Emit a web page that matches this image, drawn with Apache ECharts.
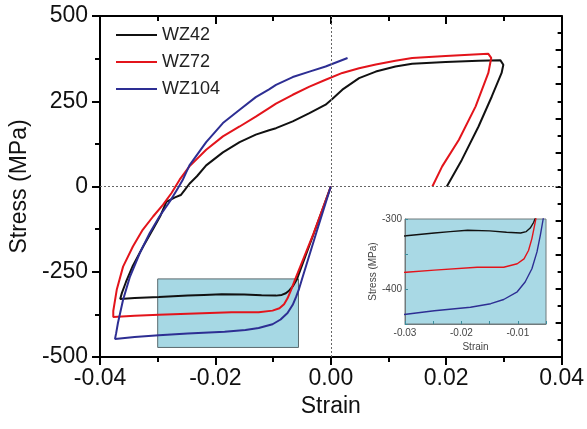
<!DOCTYPE html>
<html><head><meta charset="utf-8">
<script src="https://cdn.jsdelivr.net/npm/echarts@6/dist/echarts.min.js"></script>
<style>html,body{margin:0;padding:0;background:#fff}#c{width:587px;height:429px}</style>
</head><body><div id="c"></div>
<script>
const seriesNames = ['WZ42', 'WZ72', 'WZ104'];
const seriesColors = ['#111111', '#e3141b', '#2d2e93'];

// [strain, stress (MPa)] in loading-path order
const wz42 = [[0,0],[-0.003,-140],[-0.0059,-273],[-0.0066,-293],[-0.0072,-305],[-0.0078,-313],[-0.0085,-318],[-0.0095,-320],[-0.012,-319],[-0.015,-317],[-0.0189,-316],[-0.022,-318],[-0.0248,-320],[-0.0298,-324],[-0.034,-327],[-0.0365,-330],[-0.0362,-312],[-0.0355,-280],[-0.0343,-232],[-0.0325,-175],[-0.0308,-125],[-0.0295,-85],[-0.0285,-45],[-0.027,-32],[-0.026,-25],[-0.0253,-10],[-0.0245,8],[-0.0232,30],[-0.0216,62],[-0.0187,100],[-0.0158,130],[-0.013,152],[-0.0107,165],[-0.0095,171],[-0.0066,191],[-0.0037,215],[-0.0009,240],[0.0002,256],[0.002,284],[0.0049,318],[0.0078,337],[0.0112,352],[0.0141,360],[0.0199,365],[0.0256,369],[0.0294,370],[0.0299,357],[0.0296,333],[0.0279,264],[0.0256,176],[0.0227,78],[0.0201,0]];
const wz72 = [[0,0],[-0.003,-138],[-0.0062,-273],[-0.0069,-304],[-0.0075,-328],[-0.0081,-345],[-0.0089,-357],[-0.0101,-364],[-0.0125,-369],[-0.0172,-369],[-0.0248,-373],[-0.0298,-376],[-0.034,-379],[-0.0377,-383],[-0.0377,-365],[-0.0371,-303],[-0.036,-235],[-0.0343,-176],[-0.0326,-127],[-0.0308,-88],[-0.0291,-54],[-0.0276,-19],[-0.0271,-5],[-0.0262,20],[-0.0245,59],[-0.0216,108],[-0.0187,147],[-0.0158,176],[-0.013,205],[-0.0107,230],[-0.0095,243],[-0.0066,269],[-0.0037,293],[-0.0009,313],[0.002,333],[0.0049,347],[0.0078,358],[0.0112,369],[0.0141,377],[0.0199,383],[0.0256,388],[0.0273,389],[0.0278,377],[0.0273,333],[0.0251,235],[0.0222,137],[0.0193,59],[0.0176,0]];
const wz104 = [[0,0],[-0.0025,-135],[-0.005,-272],[-0.0055,-300],[-0.006,-323],[-0.0066,-347],[-0.0075,-371],[-0.0087,-390],[-0.0101,-404],[-0.0125,-415],[-0.0148,-421],[-0.0184,-426],[-0.0248,-431],[-0.0298,-436],[-0.034,-441],[-0.0374,-447],[-0.0372,-430],[-0.0369,-401],[-0.036,-332],[-0.0348,-264],[-0.0331,-195],[-0.0314,-137],[-0.0297,-88],[-0.0279,-44],[-0.0265,-5],[-0.0257,18],[-0.0245,62],[-0.0216,130],[-0.0187,186],[-0.0158,225],[-0.013,262],[-0.0107,285],[-0.0095,298],[-0.0066,321],[-0.0037,337],[-0.0009,352],[0.0029,377]];
const seriesData = [wz42, wz72, wz104];

// zoom window shown in the inset: [strain, stress] corners
const zoomBox = [[-0.030, -271], [-0.0056, -472]];

const FONT = '"Liberation Sans", Arial, sans-serif';

const mainSeries = seriesNames.map((n, i) => ({
  type: 'line', name: n, xAxisIndex: 0, yAxisIndex: 0, data: seriesData[i],
  symbol: 'none', showSymbol: false, color: seriesColors[i], z: 3,
  lineStyle: { width: 2, color: seriesColors[i] }
}));
mainSeries[0].markArea = {
  silent: true,
  itemStyle: { color: '#a6d8e4', borderColor: '#5a6a6e', borderWidth: 1 },
  data: [[{ coord: zoomBox[0] }, { coord: zoomBox[1] }]]
};
mainSeries[0].markLine = {
  silent: true, symbol: ['none', 'none'], label: { show: false },
  lineStyle: { color: '#666', width: 1, type: [2, 2] },
  data: [{ xAxis: 0 }, { yAxis: 0 }]
};
const insetSeries = seriesNames.map((n, i) => ({
  type: 'line', name: n, xAxisIndex: 2, yAxisIndex: 2, data: seriesData[i],
  symbol: 'none', showSymbol: false, color: seriesColors[i], z: 3, clip: true,
  lineStyle: { width: 1.4, color: seriesColors[i] }
}));

const axisBlack = { onZero: false, lineStyle: { color: '#000', width: 2 } };
const axisInset = { onZero: false, lineStyle: { color: '#707a7c', width: 1 } };

const option = {
  animation: false,
  backgroundColor: '#fff',
  textStyle: { fontFamily: FONT },
  legend: {
    data: seriesNames, orient: 'vertical', left: 116, top: 26, padding: 0,
    itemWidth: 41, itemHeight: 14, itemGap: 9,
    icon: 'path://M0,0 L41,0 L41,2 L0,2 Z',
    textStyle: { fontSize: 18, color: '#222', fontFamily: FONT }
  },
  grid: [
    { left: 100, top: 16, width: 463, height: 341 },
    { left: 405, top: 219, width: 141, height: 105, show: true,
      backgroundColor: '#a9d9e5', borderColor: '#707a7c', borderWidth: 1 }
  ],
  xAxis: [
    { type: 'value', gridIndex: 0, min: -0.04, max: 0.04, interval: 0.02,
      axisLine: axisBlack, splitLine: { show: false },
      axisTick: { inside: false, length: 8, lineStyle: { color: '#000', width: 2 } },
      minorTick: { show: true, splitNumber: 2, length: 5, lineStyle: { color: '#000', width: 2 } },
      axisLabel: { fontSize: 23, color: '#111', margin: 10, fontFamily: FONT,
        formatter: v => (Math.abs(v) < 1e-9 ? 0 : v).toFixed(2) },
      name: 'Strain', nameLocation: 'middle', nameGap: 38,
      nameTextStyle: { fontSize: 23, color: '#111', fontFamily: FONT } },
    { type: 'value', gridIndex: 0, position: 'top', min: -0.04, max: 0.04, interval: 0.02,
      axisLine: axisBlack, splitLine: { show: false }, axisLabel: { show: false },
      axisTick: { inside: true, length: 8, lineStyle: { color: '#000', width: 2 } },
      minorTick: { show: true, splitNumber: 2, length: 5, lineStyle: { color: '#000', width: 2 } } },
    { type: 'value', gridIndex: 1, min: -0.03, max: -0.005, interval: 0.005,
      axisLine: axisInset, splitLine: { show: false },
      axisTick: { inside: true, length: 3, lineStyle: { color: '#3d8d9c', width: 1 } },
      axisLabel: { fontSize: 10, color: '#444', margin: 4, fontFamily: FONT,
        formatter: v => (Math.round(v * 1000) % 10 === 0 ? v.toFixed(2) : '') },
      name: 'Strain', nameLocation: 'middle', nameGap: 18,
      nameTextStyle: { fontSize: 10, color: '#444', fontFamily: FONT } }
  ],
  yAxis: [
    { type: 'value', gridIndex: 0, min: -500, max: 500, interval: 250,
      axisLine: axisBlack, splitLine: { show: false },
      axisTick: { inside: false, length: 8, lineStyle: { color: '#000', width: 2 } },
      minorTick: { show: true, splitNumber: 2, length: 5, lineStyle: { color: '#000', width: 2 } },
      axisLabel: { fontSize: 23, color: '#111', margin: 12, fontFamily: FONT },
      name: 'Stress (MPa)', nameLocation: 'middle', nameGap: 62,
      nameTextStyle: { fontSize: 23, color: '#111', fontFamily: FONT } },
    { type: 'value', gridIndex: 0, position: 'right', min: -500, max: 500, interval: 100,
      axisLine: axisBlack, splitLine: { show: false }, axisLabel: { show: false },
      axisTick: { inside: true, length: 6, lineStyle: { color: '#000', width: 2 } },
      minorTick: { show: true, splitNumber: 2, length: 4, lineStyle: { color: '#000', width: 2 } } },
    { type: 'value', gridIndex: 1, min: -450, max: -300, interval: 50,
      axisLine: axisInset, splitLine: { show: false },
      axisTick: { inside: true, length: 3, lineStyle: { color: '#3d8d9c', width: 1 } },
      axisLabel: { fontSize: 10, color: '#444', margin: 3, fontFamily: FONT,
        formatter: v => (v % 100 === 0 ? String(v) : '') },
      name: 'Stress (MPa)', nameLocation: 'middle', nameGap: 26,
      nameTextStyle: { fontSize: 10, color: '#444', fontFamily: FONT } }
  ],
  series: mainSeries.concat(insetSeries)
};

const chart = echarts.init(document.getElementById('c'), null, { renderer: 'canvas' });
chart.setOption(option);
</script>
</body></html>
